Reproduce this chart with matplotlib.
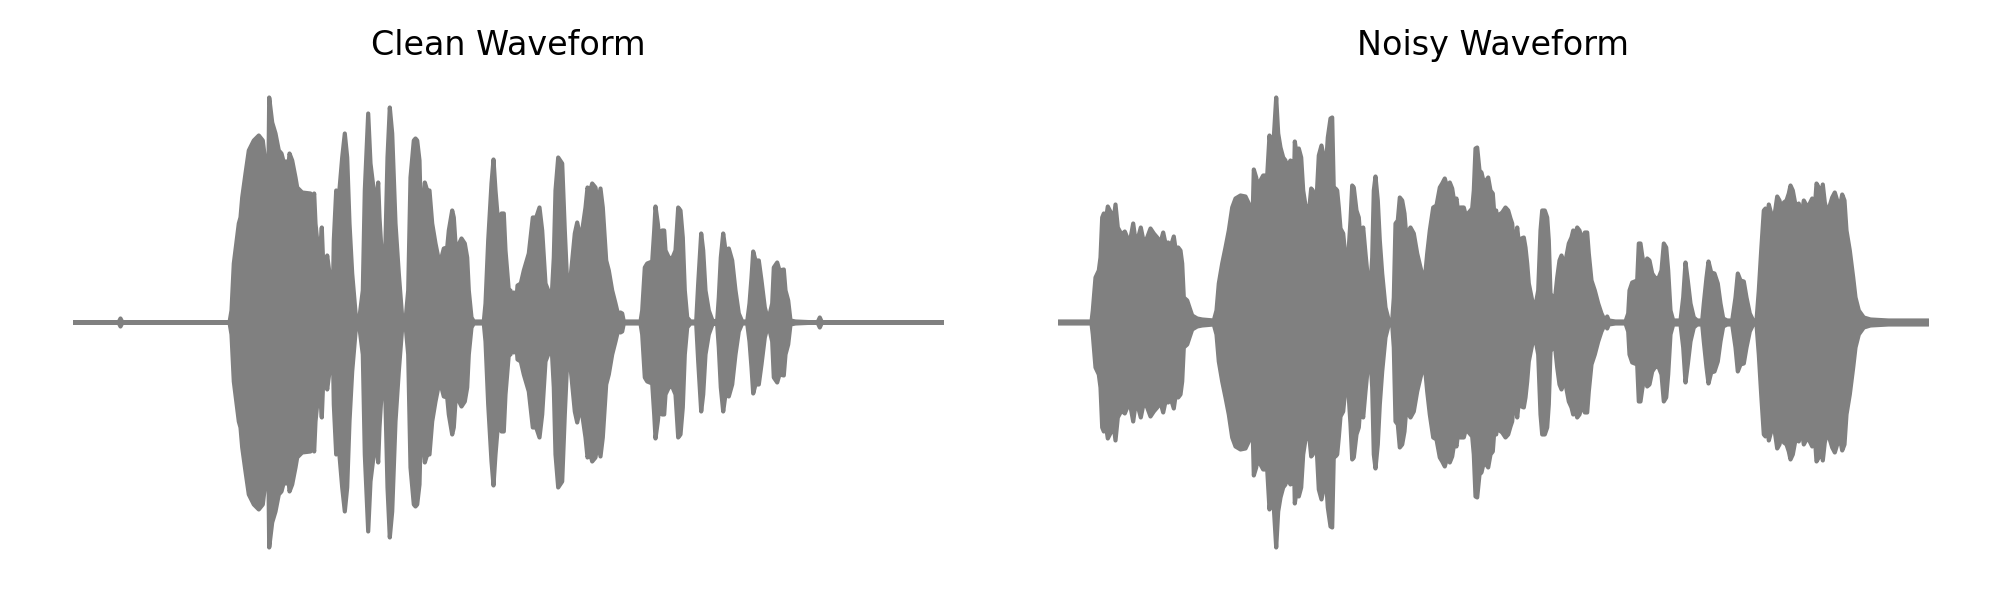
import numpy as np
import matplotlib
matplotlib.use("Agg")
from matplotlib import pyplot as plt

# Waveform envelopes.
# frames are 4 ms steps from the start of the clip, amplitude in 1/250 of full scale
HOP = 0.004
AMP_SCALE = 250.0

clean_frame = [0, 45, 47, 49, 156, 158, 160.3, 165.3, 167, 168.7, 172, 175.3, 180.3, 185.3, 189.3, 191.3,
               192.7, 194.5, 195.7, 198.7, 202, 205.3, 208, 210.3, 212.7, 214, 216, 218.7, 222, 223.7,
               228.7, 237, 239.3, 240.7, 242, 243.7, 245.3, 248.3, 249.7, 252, 253.7, 256, 258, 259.3,
               260.3, 262.7, 265.3, 268.7, 271.3, 273.7, 276, 278.7, 282.7, 285.3, 289.3, 291.3, 294.7,
               297, 300.3, 302.7, 304.7, 306, 308, 310.3, 312, 314, 316.3, 318.7, 322, 325.3, 328.7, 332,
               334.7, 337, 340.3, 342, 343.7, 346, 347.3, 349.3, 351.3, 353.7, 356, 358.7, 362, 366, 368,
               370.3, 373.7, 375.3, 378.7, 380.3, 382, 384.7, 388, 391.3, 393.7, 395.3, 398, 400.3, 410.3,
               412, 414.7, 418, 420, 422, 425.3, 428, 430.3, 432, 435.3, 437, 438.7, 440.3, 442, 444,
               447.3, 450.3, 455.3, 459.3, 462.7, 466, 468.7, 472, 474.7, 478, 480.3, 482, 484.7, 488.7,
               491.3, 493.7, 496, 498.7, 501.3, 503.7, 506, 508.7, 512, 514, 516, 518.7, 522, 524.3, 527,
               529.3, 532.7, 535.3, 538.7, 542, 545.3, 547, 548.7, 550.3, 567, 568.7, 571.3, 573.7, 578.7,
               580.7, 582, 584.3, 586.3, 588.7, 590.7, 592, 595.3, 598.7, 602, 604.7, 607, 609.3, 611.3,
               613.7, 617, 622.7, 624.7, 627.7, 629.7, 632, 635.3, 639.3, 643.7, 645.3, 647.3, 649.7, 652,
               655.3, 658.7, 662, 665.3, 668.7, 673.7, 676, 678, 679.7, 682, 685.3, 688, 691.3, 694.7,
               698.7, 700.3, 703.7, 706, 710.3, 712, 714.7, 717, 722, 744, 746.3, 748.5, 870]
clean_amp = [0, 0, 4, 0, 0, 12, 59, 99, 105, 125, 149, 172, 182, 187, 182, 165,
             105, 110, 225, 200, 189, 172, 169, 160, 161, 145, 169, 162, 145, 135,
             130, 129, 122, 129, 99, 82, 55, 95, 59, 52, 67, 49, 32, 25,
             82, 132, 125, 165, 189, 165, 99, 49, 2, 0, 32, 132, 209,
             159, 132, 119, 140, 105, 72, 39, 82, 165, 215, 189, 99, 49, 5, 2,
             32, 145, 182, 184, 182, 162, 109, 112, 140, 132, 132, 99, 79, 59, 65,
             74, 75, 92, 112, 105, 79, 77, 84, 79, 65, 32, 5, 1, 1,
             19, 82, 139, 163, 132, 92, 109, 109, 72, 32, 32, 12, 30, 9, 37,
             39, 52, 69, 105, 105, 115, 92, 39, 32, 22, 65, 132, 165, 159,
             92, 39, 34, 62, 89, 100, 89, 92, 115, 135, 129, 139, 135, 119, 134,
             115, 62, 52, 32, 19, 5, 10, 9, 1, 1, 12, 55, 59, 61,
             92, 116, 99, 79, 92, 92, 72, 65, 64, 72, 115, 112, 85, 32,
             5, 1, 1, 39, 89, 72, 32, 12, 1, 2, 25, 65, 89, 72,
             74, 62, 32, 9, 1, 1, 19, 45, 71, 62, 62, 42, 15, 2,
             19, 55, 60, 52, 53, 32, 22, 2, 1, 0, 5, 0, 0]

noisy_frame = [0, 33, 34.3, 37, 40.3, 42, 43.7, 45.3, 47.7, 49.3, 51.3, 53, 54.7, 57, 59.3, 62, 64.3,
               66.3, 68.7, 72, 74.7, 77, 79.7, 82.3, 85.3, 88.7, 92, 95.3, 98.7, 102, 104.7, 107, 109.7,
               112, 115.3, 117.7, 119.7, 122, 123.7, 125.3, 128.7, 131, 133.7, 138.7, 143.7, 155.3, 158,
               160.3, 163.7, 167, 170.3, 173.7, 177, 182, 187, 190.3, 192, 193.7, 195.3, 197.7, 199.7,
               202, 204.7, 208.7, 211, 213, 215.3, 217.7, 219.7, 222, 224.7, 227, 228, 229.3, 232, 234,
               235.3, 236.3, 238, 240.3, 242.7, 244.7, 247, 248.7, 250.3, 252.7, 254.3, 256, 258, 260.3,
               263, 265.3, 267, 269.3, 272, 273.7, 275.3, 277, 278.7, 280.3, 282, 284.7, 287, 288.7,
               290.3, 292, 293.7, 295.3, 298, 300.3, 302, 304.7, 307, 309.3, 311.3, 313.7, 315.3, 317,
               319.3, 321.3, 323.7, 327, 330.3, 333.7, 335.3, 337, 339.3, 341.3, 343.7, 346, 348.7,
               350.3, 352, 355.3, 358.7, 362, 366, 368.7, 371.3, 374.7, 378, 381.3, 383.7, 386.3, 388.7,
               391.3, 393.7, 396, 398, 400.3, 402, 405.3, 407.3, 410.3, 413.7, 415.3, 417, 418.7, 421,
               423, 425.3, 427.7, 429.7, 432, 434.3, 435.7, 437.7, 439.3, 441, 443.7, 447, 449.7, 452,
               453.7, 455.3, 457, 458.7, 460.3, 463, 465.3, 467, 468.7, 470.3, 473.7, 477, 479.7, 482,
               483.7, 486.3, 488.7, 490.3, 492, 494.3, 496.3, 498.7, 501, 503, 505.3, 507.7, 510.3, 513,
               514.7, 517, 518.7, 521, 523.7, 526.3, 528.7, 530.3, 533, 536.3, 539.7, 543, 546.3, 548.7,
               550.3, 557, 567, 569.7, 571, 573.7, 578.7, 580.3, 582, 583.7, 586.3, 588.7, 591, 593.7,
               597, 600.3, 603, 605.3, 607.7, 609.7, 612, 614.7, 622, 624.7, 627, 629.3, 632, 635.3,
               638.7, 643.7, 645.3, 648, 650, 652.7, 656, 659.3, 662, 664.7, 668.7, 673.7, 677, 679.3,
               682, 685.3, 688, 691.3, 694.7, 698, 700.3, 702.7, 705.3, 707, 708.7, 710.3, 712.7, 714.7,
               716.7, 718.7, 721, 723, 725.3, 728, 730.3, 732, 734.3, 736.7, 738.7, 740.3, 742.7, 745.3,
               748, 750.3, 753.7, 756, 758, 760.3, 762, 764.3, 766.3, 768.7, 771.3, 773.7, 776.3, 778.7,
               781.3, 783.7, 786, 788, 791.3, 794.7, 797, 800.3, 805.3, 812, 830, 870]
noisy_amp = [1, 1, 12, 45, 52, 65, 105, 109, 105, 116, 112, 109, 99, 118, 95, 90, 89,
             91, 85, 84, 99, 82, 85, 95, 80, 85, 94, 89, 85, 80, 90, 79, 80,
             75, 86, 69, 75, 72, 59, 25, 22, 15, 7, 4, 3, 2, 12,
             39, 59, 75, 92, 115, 124, 127, 126, 119, 72, 89, 153, 145, 132,
             142, 147, 147, 187, 169, 185, 225, 189, 175, 165, 162, 139, 157, 162, 160,
             132, 181, 169, 174, 165, 132, 117, 116, 109, 134, 132, 105, 122, 167,
             177, 165, 149, 185, 204, 205, 132, 134, 132, 115, 94, 89, 65, 39,
             75, 102, 137, 135, 112, 105, 82, 95, 69, 45, 25, 65, 132, 146,
             122, 82, 49, 15, 2, 2, 25, 99, 102, 125, 122, 109, 75,
             92, 95, 89, 69, 55, 40, 69, 92, 115, 117, 135, 139, 144, 135,
             140, 134, 119, 124, 105, 115, 115, 107, 110, 114, 132, 174, 175, 152,
             150, 140, 142, 145, 132, 129, 110, 112, 95, 108, 110, 115, 112, 104,
             99, 79, 80, 95, 80, 84, 85, 75, 59, 39, 22, 17, 32, 92,
             112, 112, 105, 82, 29, 25, 22, 45, 62, 67, 60, 65, 79, 85,
             92, 89, 95, 92, 82, 90, 90, 69, 42, 32, 19, 9, 2, 6,
             2, 1, 1, 9, 32, 40, 42, 79, 79, 67, 52, 64, 62, 49,
             44, 45, 52, 79, 75, 52, 12, 2, 2, 25, 60, 42, 19, 5,
             2, 2, 19, 45, 61, 50, 49, 39, 19, 4, 2, 2, 25, 49,
             42, 41, 25, 9, 2, 2, 32, 72, 112, 114, 85, 118, 109, 99,
             112, 126, 122, 112, 120, 122, 129, 137, 132, 119, 114, 119, 104, 122,
             117, 117, 124, 110, 139, 135, 119, 138, 120, 110, 117, 125, 130, 122,
             115, 128, 122, 92, 72, 45, 25, 12, 5, 3, 2, 2]

titles = ["Clean Waveform", "Noisy Waveform"]

fig = plt.figure(figsize=(10, 3), dpi=200)
ax1 = fig.add_axes([0.0365, 0.0467, 0.435, 0.8333])
ax2 = fig.add_axes([0.529, 0.0467, 0.435, 0.8333])

for ax, frames, amp, title in zip([ax1, ax2], [clean_frame, noisy_frame], [clean_amp, noisy_amp], titles):
    t = np.array(frames) * HOP
    a = np.array(amp) / AMP_SCALE
    ax.fill_between(t, -a, a, facecolor="gray", edgecolor="gray", linewidth=1.5)
    ax.set_xlim(0, 870 * HOP)
    ax.set_ylim(-1, 1)
    ax.set_title(title, fontsize=12)
    ax.axis("off")

fig.savefig("out.png", dpi=200)
